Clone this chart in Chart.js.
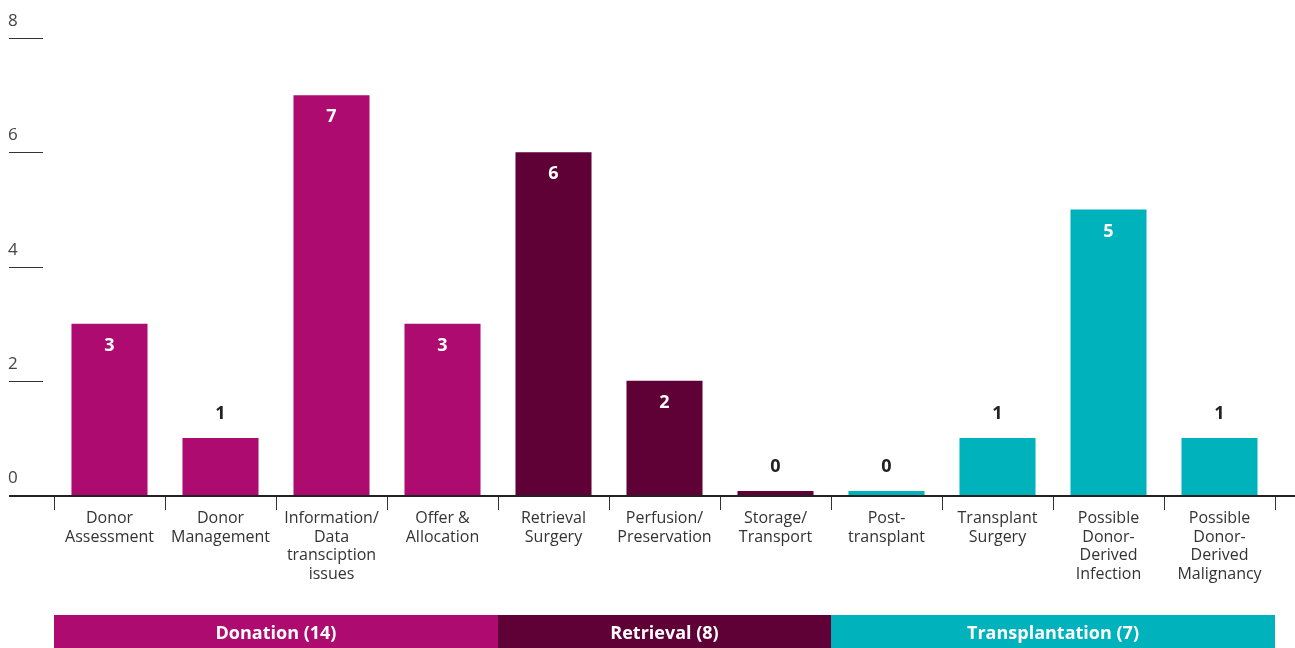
<!DOCTYPE html>
<html>
<head>
<meta charset="utf-8">
<script src="https://cdn.jsdelivr.net/npm/chart.js@4"></script>
<style>
  body { margin: 0; background: #fff; }
  #wrap { width: 1295px; height: 648px; position: relative; }
</style>
</head>
<body>
<div id="wrap"><canvas id="results"></canvas></div>
<script>
// chart data
let categories = [
  ['Donor', 'Assessment'],
  ['Donor', 'Management'],
  ['Information/', 'Data', 'transciption', 'issues'],
  ['Offer &', 'Allocation'],
  ['Retrieval', 'Surgery'],
  ['Perfusion/', 'Preservation'],
  ['Storage/', 'Transport'],
  ['Post-', 'transplant'],
  ['Transplant', 'Surgery'],
  ['Possible', 'Donor-', 'Derived', 'Infection'],
  ['Possible', 'Donor-', 'Derived', 'Malignancy']
];
let incidents = [3, 1, 7, 3, 6, 2, 0, 0, 1, 5, 1];
let stageOfBar = [0, 0, 0, 0, 1, 1, 1, 2, 2, 2, 2];

let stageNames = ['Donation (14)', 'Retrieval (8)', 'Transplantation (7)'];
let stageFirst = [0, 4, 7];
let stageLast = [3, 6, 10];
let stageColors = ['#AD0B6F', '#5F0036', '#00B2BB'];

let yTicks = [0, 2, 4, 6, 8];

let fontName = "'Open Sans', 'DejaVu Sans', sans-serif";

// draws the y tick labels, baseline, value labels and stage band
let extrasPlugin = {
  id: 'extras',
  afterDraw(chart) {
    let ctx = chart.ctx;
    let x = chart.scales.x;
    let y = chart.scales.y;
    ctx.save();

    // y ticks: short lines with the number above them
    yTicks.forEach(t => {
      let py = y.getPixelForValue(t);
      if (t > 0) {
        ctx.strokeStyle = '#333';
        ctx.lineWidth = 1;
        ctx.beginPath();
        ctx.moveTo(9, Math.round(py) + 0.5);
        ctx.lineTo(43, Math.round(py) + 0.5);
        ctx.stroke();
      }
      ctx.fillStyle = '#444';
      ctx.font = '17px ' + fontName;
      ctx.textAlign = 'left';
      ctx.textBaseline = 'alphabetic';
      ctx.fillText(String(t), 8, py - 12);
    });

    // baseline across the whole width
    let base = y.getPixelForValue(0);
    ctx.strokeStyle = '#222';
    ctx.lineWidth = 2;
    ctx.beginPath();
    ctx.moveTo(9, base + 1);
    ctx.lineTo(chart.width, base + 1);
    ctx.stroke();

    // value labels
    let bars = chart.getDatasetMeta(0).data;
    ctx.font = 'bold 18px ' + fontName;
    ctx.textAlign = 'center';
    ctx.textBaseline = 'middle';
    bars.forEach((bar, i) => {
      let v = incidents[i];
      if (v >= 2) {
        ctx.fillStyle = '#fff';
        ctx.fillText(String(v), bar.x, bar.y + 22);
      } else {
        ctx.fillStyle = '#222';
        ctx.fillText(String(v), bar.x, bar.y - 24);
      }
    });

    // stage band along the bottom
    let half = (x.getPixelForValue(1) - x.getPixelForValue(0)) / 2;
    stageNames.forEach((name, s) => {
      let left = x.getPixelForValue(stageFirst[s]) - half;
      let right = x.getPixelForValue(stageLast[s]) + half;
      ctx.fillStyle = stageColors[s];
      ctx.fillRect(left, 615, right - left, 33);
      ctx.fillStyle = '#fff';
      ctx.font = 'bold 18px ' + fontName;
      ctx.fillText(name, (left + right) / 2, 634);
    });

    ctx.restore();
  }
};

function createBarChart() {
  let c = document.getElementById('results');
  let context = c.getContext('2d');

  new Chart(context, {
    type: 'bar',
    data: {
      labels: categories,
      datasets: [{
        data: incidents,
        backgroundColor: stageOfBar.map(s => stageColors[s]),
        borderWidth: 0,
        barPercentage: 0.685,
        categoryPercentage: 1,
        minBarLength: 4
      }]
    },
    options: {
      responsive: true,
      maintainAspectRatio: false,
      animation: false,
      layout: { padding: { left: 54, right: 20, top: 38, bottom: 0 } },
      plugins: {
        legend: { display: false },
        tooltip: { enabled: false }
      },
      scales: {
        x: {
          afterFit: s => { s.height = 153; },
          border: { display: false },
          grid: {
            offset: true,
            drawOnChartArea: false,
            tickLength: 15,
            color: '#333',
            lineWidth: 1
          },
          ticks: {
            color: '#333',
            padding: -1,
            maxRotation: 0,
            autoSkip: false,
            font: { family: fontName, size: 16, lineHeight: 1.17 }
          }
        },
        y: {
          display: false,
          min: 0,
          max: 8
        }
      }
    },
    plugins: [extrasPlugin]
  });
}

createBarChart();
</script>
</body>
</html>
